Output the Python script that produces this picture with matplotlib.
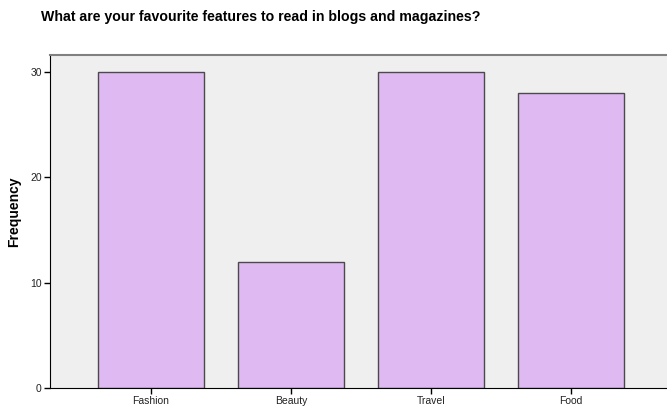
import matplotlib
matplotlib.use('Agg')
import matplotlib.pyplot as plt

categories = ['Fashion', 'Beauty', 'Travel', 'Food']
frequency = [30, 12, 30, 28]
y_ticks = [0, 10, 20, 30]

plt.rcParams['font.family'] = ['Liberation Sans', 'DejaVu Sans']

fig = plt.figure(figsize=(6.67, 4.12), dpi=100)
ax = fig.add_axes([50 / 667, 24 / 412, 617 / 667, 333 / 412])
ax.set_facecolor('#efefef')

x = range(len(categories))
ax.bar(x, frequency, width=0.757, color='#dfbaf2', edgecolor='#4a4a4a', linewidth=1.0)

ax.set_xlim(-0.72, 3.686)
ax.set_ylim(0, 31.6)
ax.set_xticks(list(x))
ax.set_xticklabels(categories, fontsize=7.5, color='#222222')
ax.set_yticks(y_ticks)
ax.set_yticklabels([str(v) for v in y_ticks], fontsize=7.5, color='#222222')
ax.tick_params(axis='both', length=4, width=1, color='black', pad=2)

ax.spines['right'].set_visible(False)
ax.spines['top'].set_color('#808080')
ax.spines['top'].set_linewidth(1.5)
ax.spines['left'].set_color('black')
ax.spines['bottom'].set_color('black')

ax.set_ylabel('Frequency', fontsize=10, fontweight='bold')
ax.yaxis.set_label_coords(-29 / 617, 0.53)
fig.text(261 / 667, 1 - 17 / 412, 'What are your favourite features to read in blogs and magazines?',
         ha='center', va='center', fontsize=10.2, fontweight='bold')

fig.savefig('out.png', dpi=100)
